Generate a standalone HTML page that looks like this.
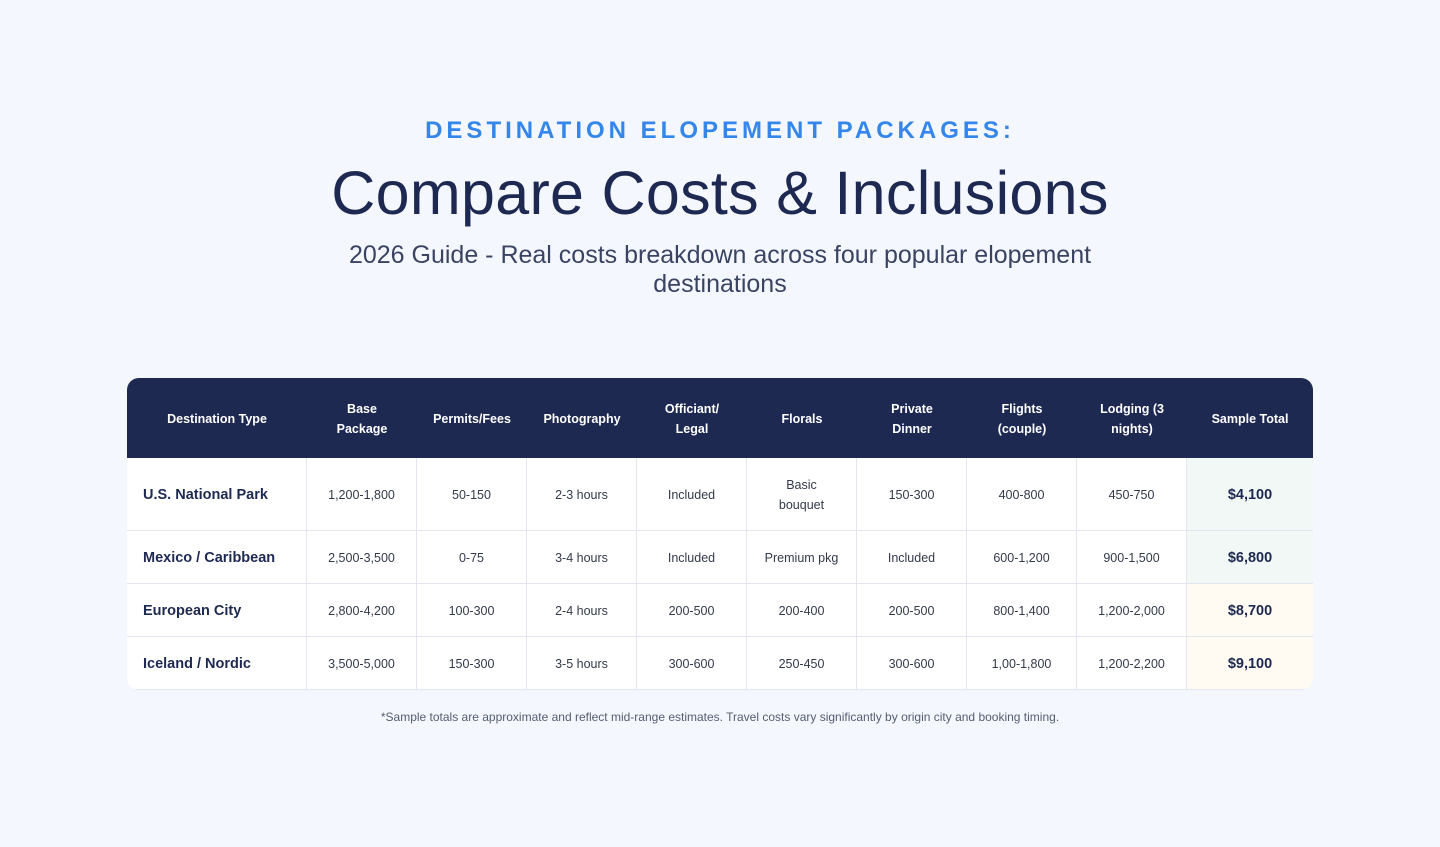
<!DOCTYPE html>
<html><head><meta charset="utf-8"><style>
*{margin:0;padding:0;box-sizing:border-box}
body{width:1440px;height:847px;background:#f4f7fe;font-family:"Liberation Sans",sans-serif;color:#1e2952;position:relative;overflow:hidden}
.kick{position:absolute;top:117px;left:0;width:1440px;text-align:center;color:#3486ea;font-size:24px;font-weight:bold;letter-spacing:4px}
h1{position:absolute;top:158px;left:0;width:1440px;text-align:center;font-size:61px;font-weight:normal;color:#1e2952;letter-spacing:0.3px}
.sub{position:absolute;top:241px;left:320px;width:800px;text-align:center;font-size:25px;line-height:29px;color:#3a4462}
table{position:absolute;top:378px;left:127px;width:1186px;border-collapse:separate;border-spacing:0;border-radius:12px;overflow:hidden;background:#fff;table-layout:fixed}
th{background:#1e2952;color:#fff;font-size:12.5px;font-weight:bold;height:80px;line-height:20px;text-align:center;padding:2px 8px 0}
td{font-size:12.5px;text-align:center;color:#333a4a;border-right:1px solid #e3e6f0;border-bottom:1px solid #e3e6f0;line-height:20px;padding:2px 6px 0}
td:first-child{text-align:left;padding-left:16px;font-weight:bold;font-size:14.5px;color:#1e2952}
td.t{font-weight:bold;font-size:14.5px;color:#1e2952;border-right:none}
tr.a td{height:73px} tr.b td{height:53px}
.g{background:#f2f8f5}.y{background:#fffbf3}
.note{position:absolute;top:710px;left:0;width:1440px;text-align:center;font-size:12px;color:#555d72}
</style></head><body>
<div class="kick">DESTINATION ELOPEMENT PACKAGES:</div>
<h1>Compare Costs &amp; Inclusions</h1>
<div class="sub">2026 Guide - Real costs breakdown across four popular elopement destinations</div>
<table>
<colgroup><col style="width:180px"><col style="width:110px"><col style="width:110px"><col style="width:110px"><col style="width:110px"><col style="width:110px"><col style="width:110px"><col style="width:110px"><col style="width:110px"><col style="width:126px"></colgroup>
<tr><th>Destination Type</th><th>Base<br>Package</th><th>Permits/Fees</th><th>Photography</th><th>Officiant/<br>Legal</th><th>Florals</th><th>Private<br>Dinner</th><th>Flights<br>(couple)</th><th>Lodging (3<br>nights)</th><th>Sample Total</th></tr>
<tr class="a"><td>U.S. National Park</td><td>1,200-1,800</td><td>50-150</td><td>2-3 hours</td><td>Included</td><td>Basic<br>bouquet</td><td>150-300</td><td>400-800</td><td>450-750</td><td class="t g">$4,100</td></tr>
<tr class="b"><td>Mexico / Caribbean</td><td>2,500-3,500</td><td>0-75</td><td>3-4 hours</td><td>Included</td><td>Premium pkg</td><td>Included</td><td>600-1,200</td><td>900-1,500</td><td class="t g">$6,800</td></tr>
<tr class="b"><td>European City</td><td>2,800-4,200</td><td>100-300</td><td>2-4 hours</td><td>200-500</td><td>200-400</td><td>200-500</td><td>800-1,400</td><td>1,200-2,000</td><td class="t y">$8,700</td></tr>
<tr class="b"><td>Iceland / Nordic</td><td>3,500-5,000</td><td>150-300</td><td>3-5 hours</td><td>300-600</td><td>250-450</td><td>300-600</td><td>1,00-1,800</td><td>1,200-2,200</td><td class="t y">$9,100</td></tr>
</table>
<div class="note">*Sample totals are approximate and reflect mid-range estimates. Travel costs vary significantly by origin city and booking timing.</div>
</body></html>
